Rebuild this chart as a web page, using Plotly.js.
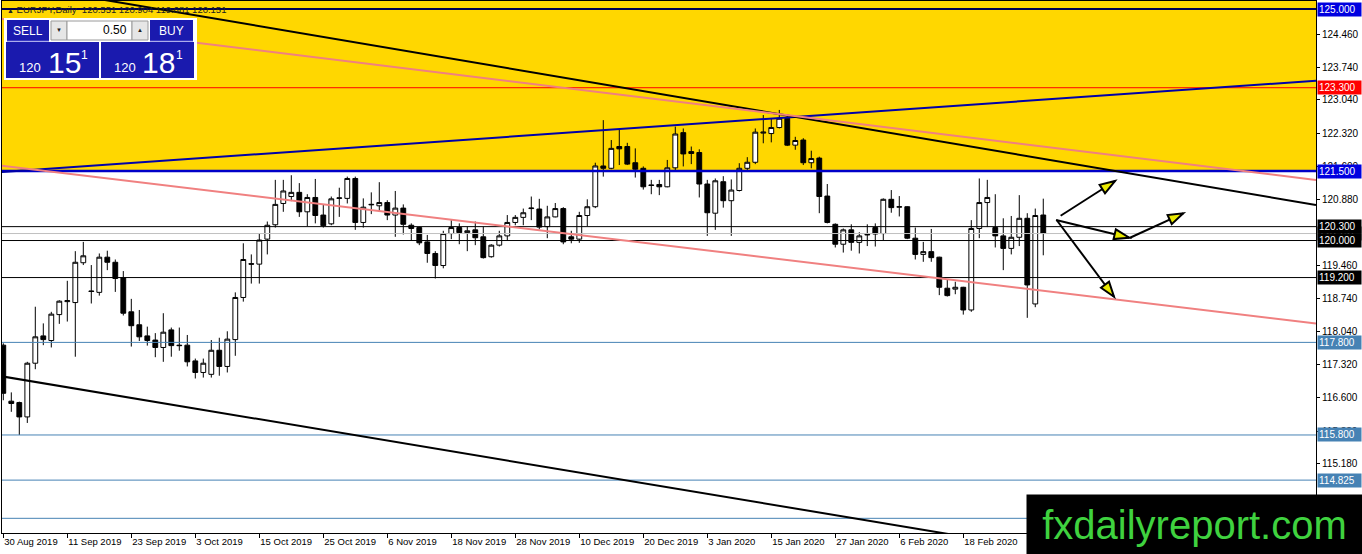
<!DOCTYPE html>
<html><head><meta charset="utf-8">
<script src="https://cdn.plot.ly/plotly-3.0.1.min.js"></script>
<style>html,body{margin:0;padding:0;background:#fff;overflow:hidden}#chart{width:1362px;height:554px}</style>
</head><body><div id="chart"></div>
<script>
// ---------------- DATA ----------------
const symbolTitle = 'EURJPY,Daily';
const lastBar = ['120.551', '120.904', '119.681', '120.151'];

const openP = [117.74,116.53,116.50,116.19,117.35,117.94,117.84,118.40,118.68,118.66,
119.52,118.91,118.88,119.64,119.53,119.20,118.46,118.18,117.94,117.85,
117.69,118.07,117.74,117.74,117.40,117.15,117.11,117.63,117.28,117.86,
118.77,119.50,119.49,120.03,120.34,120.80,120.95,121.04,120.62,120.93,
120.55,120.36,120.91,120.91,121.34,120.39,120.77,120.75,120.82,120.55,
120.70,120.33,120.28,119.97,119.72,119.46,120.15,120.28,120.17,120.23,
120.08,119.65,119.90,120.10,120.39,120.50,120.69,120.68,120.30,120.51,
120.69,120.08,120.03,120.54,120.73,121.61,121.56,122.03,122.03,121.68,
121.56,121.20,121.21,121.16,121.57,122.33,121.92,121.90,121.22,120.59,
121.27,120.86,121.08,121.56,121.69,122.32,122.31,122.44,122.64,122.06,
122.17,121.68,121.78,120.96,120.35,119.92,120.23,119.96,120.12,120.28,
120.15,120.89,120.72,120.73,120.05,119.70,119.76,119.64,118.97,118.95,
118.99,118.50,120.26,120.82,120.28,120.10,119.83,120.07,120.48,118.63,
120.551];
const highP = [117.78,116.72,116.52,117.38,118.57,118.21,118.46,118.71,119.13,119.77,
119.97,119.47,119.72,119.78,119.59,119.34,118.74,118.50,118.14,118.00,
118.43,118.12,118.12,117.96,117.45,117.45,117.85,117.90,118.04,118.88,
119.94,119.70,120.16,120.41,121.31,121.31,121.41,121.24,121.00,121.33,
120.77,120.95,121.14,121.38,121.38,120.91,121.04,121.26,120.87,121.07,
120.78,120.37,120.30,120.12,119.77,120.21,120.44,120.37,120.30,120.41,
120.30,119.92,120.21,120.55,120.55,120.69,120.95,120.90,120.75,120.81,
120.72,120.21,120.62,120.89,121.68,122.60,122.17,122.40,122.11,121.99,
121.60,121.31,121.31,121.74,122.46,122.42,122.03,121.97,121.31,121.34,
121.39,121.32,121.67,121.80,122.42,122.71,122.64,122.82,122.71,122.24,
122.21,121.94,121.81,121.22,120.37,120.26,120.35,120.18,120.35,120.37,
120.91,121.09,120.96,120.74,120.28,119.97,120.25,119.65,119.15,119.11,
119.00,120.44,121.34,121.31,121.00,120.48,120.53,120.98,120.59,120.69,
120.904];
const lowP = [116.55,116.30,115.80,116.06,117.22,117.74,117.69,118.20,118.25,117.49,
119.47,118.64,118.81,119.36,118.89,118.38,117.71,117.83,117.73,117.48,
117.38,117.49,117.62,117.28,117.02,117.04,117.04,117.08,117.15,117.51,
118.68,119.07,119.07,119.70,120.28,120.62,120.85,120.51,120.31,120.37,
120.28,120.33,120.51,120.80,120.23,120.28,120.57,120.62,120.44,120.08,
120.13,119.99,119.90,119.52,119.18,119.40,120.03,119.92,119.77,119.90,
119.61,119.63,119.87,120.01,120.33,120.33,120.44,120.24,120.05,120.50,
119.92,119.94,119.95,120.31,120.70,121.38,121.54,121.63,121.63,121.36,
121.10,121.00,120.98,121.15,121.52,121.60,121.65,120.93,120.10,120.23,
120.71,120.10,121.06,121.51,121.65,122.10,122.12,122.42,122.04,121.96,
121.63,121.56,120.59,120.37,119.85,119.74,119.78,119.72,119.88,119.87,
120.01,120.60,120.52,120.03,119.59,119.54,119.54,118.82,118.79,118.84,
118.40,118.46,120.05,120.29,119.85,119.36,119.70,119.88,118.33,118.56,
119.681];
const closeP = [116.70,116.48,116.19,117.35,117.92,117.86,118.41,118.69,118.70,119.53,
119.67,118.90,119.64,119.53,119.18,118.43,118.16,117.92,117.84,117.69,
118.02,117.73,117.73,117.38,117.15,117.35,117.63,117.28,117.87,118.77,
119.59,119.49,120.01,120.33,120.78,121.07,121.04,120.62,120.93,120.54,
120.32,120.90,120.92,121.34,120.39,120.72,120.78,120.82,120.55,120.70,
120.35,120.26,119.95,119.72,119.46,120.15,120.28,120.17,120.21,120.06,
119.63,119.90,120.10,120.39,120.50,120.60,120.70,120.29,120.51,120.69,
119.97,120.03,120.54,120.73,121.61,121.56,121.99,121.98,121.65,121.54,
121.16,121.19,121.16,121.57,122.30,121.87,121.88,121.22,120.60,121.29,
120.86,121.09,121.56,121.69,122.34,122.34,122.44,122.64,122.06,122.16,
121.68,121.77,120.95,120.39,119.92,120.23,119.96,120.10,120.13,120.14,
120.89,120.71,120.73,120.05,119.70,119.76,119.63,118.99,118.81,118.99,
118.50,120.26,120.82,120.93,120.10,119.83,120.07,120.48,119.04,120.54,
120.151];

const dateTickIndex = [0,8,16,24,32,40,48,56,64,72,80,88,96,104,112,120];
const dateTickText = ['30 Aug 2019','11 Sep 2019','23 Sep 2019','3 Oct 2019','15 Oct 2019','25 Oct 2019',
  '6 Nov 2019','18 Nov 2019','28 Nov 2019','10 Dec 2019','20 Dec 2019','3 Jan 2020','15 Jan 2020',
  '27 Jan 2020','6 Feb 2020','18 Feb 2020'];
const priceTicks = [124.46,123.74,123.04,122.32,121.60,120.88,119.46,118.74,118.04,117.32,116.60,115.88,115.18];

const zoneLow = 121.5;
const levelPrices = [125.0, 123.3, 121.5, 120.151, 120.3, 120.0, 119.2, 117.8, 115.8, 114.825, 114.0];
const levelLabels = ['125.000','123.300','121.500','120.151','120.300','120.000','119.200','117.800','115.800','114.825',''];

// trend lines: [bar index, price] pairs
const trendFrom = [[-0.41,121.479],[12.5,125.20],[-0.41,124.79],[-0.41,121.622],[-0.41,117.073]];
const trendTo   = [[164.09,123.450],[164.09,120.767],[164.09,121.307],[164.09,118.207],[130.0,113.32]];
// arrows
const arrowFrom = [[132.17,120.535],[131.59,120.443],[140.84,120.060],[131.67,120.443]];
const arrowTo   = [[138.96,121.285],[140.75,120.060],[147.50,120.587],[138.84,118.786]];

// ---------------- STYLE / LAYOUT ----------------
const FONT = 'Tahoma, "Liberation Sans", Arial, sans-serif';
const W=1362, H=554, ML=2, MR=46, MT=1, MB=21;
const plotW = W-ML-MR, plotH = H-MT-MB;
const xRange = [-0.1625, 164.09];
const yRange = [113.683, 125.173];
const pxPerX = plotW/(xRange[1]-xRange[0]);
const pxPerY = plotH/(yRange[1]-yRange[0]);
const PX = px => (px-ML)/plotW;
const PY = py => (MT+plotH-py)/plotH;

const levelLine = [
  {color:'#000050', width:2}, {color:'#ff0000', width:1}, {color:'#0000c8', width:2.5},
  {color:'#c0c0c0', width:1}, {color:'#000000', width:1}, {color:'#000000', width:1},
  {color:'#000000', width:1}, {color:'#4682b4', width:1}, {color:'#4682b4', width:1},
  {color:'#4682b4', width:1}, {color:'#4682b4', width:1}];
const levelBg = ['#0000e0','#ff0000','#0000e0','#202020','#000000','#000000','#000000','#4682b4','#4682b4','#4682b4','#4682b4'];
const trendStyle = [
  {color:'#0000a8', width:2}, {color:'#000000', width:2}, {color:'#f08080', width:2},
  {color:'#f08080', width:2}, {color:'#000000', width:2}];

const idx = openP.map((_, i) => i);

const trace = {
  type:'candlestick', x: idx, open: openP, high: highP, low: lowP, close: closeP,
  increasing:{line:{color:'#000000', width:1}, fillcolor:'#ffffff'},
  decreasing:{line:{color:'#000000', width:1}, fillcolor:'#000000'},
  whiskerwidth:0, hoverinfo:'skip', showlegend:false
};

const shapes = [];
const annotations = [];

// yellow zone
shapes.push({type:'rect', layer:'below', xref:'paper', yref:'y', x0:0, x1:1, y0:zoneLow, y1:yRange[1],
  fillcolor:'#ffd700', line:{width:0}});

// horizontal levels
levelPrices.forEach((p, i) => {
  shapes.push({type:'line', layer:'above', xref:'paper', yref:'y', x0:0, x1:1, y0:p, y1:p,
    line:{color:levelLine[i].color, width:levelLine[i].width}});
});

// trend lines
trendFrom.forEach((a, i) => {
  const b = trendTo[i];
  shapes.push({type:'line', layer:'above', xref:'x', yref:'y', x0:a[0], y0:a[1], x1:b[0], y1:b[1],
    line:{color:trendStyle[i].color, width:trendStyle[i].width}});
});

// arrows with yellow heads
function headPath(from, to){
  const dxp = (to[0]-from[0])*pxPerX, dyp = -(to[1]-from[1])*pxPerY;
  const len = Math.hypot(dxp, dyp), ux = dxp/len, uy = dyp/len, nx = -uy, ny = ux;
  const L = 15, Wd = 5;
  const pts = [[0,0],[-ux*L + nx*Wd, -uy*L + ny*Wd],[-ux*L - nx*Wd, -uy*L - ny*Wd]]
    .map(([px,py]) => [to[0] + px/pxPerX, to[1] - py/pxPerY]);
  return 'M ' + pts.map(p => p[0] + ',' + p[1]).join(' L ') + ' Z';
}
arrowFrom.forEach((a, i) => {
  const b = arrowTo[i];
  shapes.push({type:'line', layer:'above', xref:'x', yref:'y', x0:a[0], y0:a[1], x1:b[0], y1:b[1],
    line:{color:'#000000', width:2}});
  shapes.push({type:'path', layer:'above', xref:'x', yref:'y', path:headPath(a, b),
    fillcolor:'#e8e800', line:{color:'#000000', width:2}});
});

// level labels on price axis
levelPrices.forEach((p, i) => {
  if (!levelLabels[i]) return;
  annotations.push({xref:'paper', yref:'y', x:1, y:p, xanchor:'left', yanchor:'middle', xshift:1,
    text:levelLabels[i], showarrow:false, bgcolor:levelBg[i], borderpad:1, width:41, height:11, align:'left',
    font:{family:FONT, size:10, color:'#ffffff'}});
});

// header text
annotations.push({xref:'paper', yref:'paper', x:PX(5), y:PY(10), xanchor:'left', yanchor:'middle', showarrow:false,
  text:'<span style="font-size:7px">▲</span> ' + symbolTitle + '  ' + lastBar.join(' '),
  font:{family:FONT, size:9.5, color:'#202020'}});

// trade panel
const BLUE = '#1a1aae';
const panelRects = [
  [4,18,197,80,'#ffffff',null],
  [7,20,49,41,BLUE,null],
  [51,21,67,40,'#e6e6e6','#9a9a9a'],
  [67,21,132,40,'#ffffff','#9a9a9a'],
  [132,21,148,40,'#e6e6e6','#9a9a9a'],
  [150,20,193,41,BLUE,null],
  [6,42,99,78,BLUE,null],
  [101,42,194,78,BLUE,null]];
panelRects.forEach(r => {
  shapes.push({type:'rect', layer:'above', xref:'paper', yref:'paper', x0:PX(r[0]), x1:PX(r[2]), y0:PY(r[3]), y1:PY(r[1]),
    fillcolor:r[4], line: r[5] ? {color:r[5], width:1} : {width:0}});
});
[[49,41,7,41],[150,41,193,41]].forEach(l => {
  shapes.push({type:'line', layer:'above', xref:'paper', yref:'paper', x0:PX(l[0]), x1:PX(l[2]), y0:PY(l[1]), y1:PY(l[3]),
    line:{color:'#5a5ad8', width:1}});
});
const panelTexts = [
  ['SELL', 28, 31, 12, '#ffffff', 'center'],
  ['▼', 59, 30, 6, '#202020', 'center'],
  ['0.50', 129, 30, 12, '#000000', 'right'],
  ['▲', 140, 30, 6, '#202020', 'center'],
  ['BUY', 171, 31, 12, '#ffffff', 'center'],
  ['120', 30, 67, 13, '#ffffff', 'center'],
  ['15', 64, 62, 30, '#ffffff', 'center'],
  ['1', 84, 55, 12, '#ffffff', 'center'],
  ['120', 125, 67, 13, '#ffffff', 'center'],
  ['18', 158, 62, 30, '#ffffff', 'center'],
  ['1', 179, 55, 12, '#ffffff', 'center']];
panelTexts.forEach(t => {
  annotations.push({xref:'paper', yref:'paper', x:PX(t[1]), y:PY(t[2]), xanchor:t[5], yanchor:'middle', showarrow:false,
    text:t[0], font:{family:FONT, size:t[3], color:t[4]}});
});

// watermark
annotations.push({xref:'paper', yref:'paper', x:PX(1194.5), y:PY(524.5), xanchor:'center', yanchor:'middle', showarrow:false,
  text:'fxdailyreport.com', bgcolor:'#000000', width:331, height:55, borderpad:2, valign:'middle',
  font:{family:'"Liberation Sans", Arial, sans-serif', size:40, color:'#3fd23f'}});

const layout = {
  width:W, height:H, margin:{l:ML, r:MR, t:MT, b:MB, pad:0},
  paper_bgcolor:'#ffffff', plot_bgcolor:'#ffffff', showlegend:false, dragmode:false,
  boxgap:0.4, boxgroupgap:0,
  xaxis:{type:'linear', range:xRange, fixedrange:true, showgrid:false, zeroline:false,
    showline:true, mirror:true, linecolor:'#000000', linewidth:1,
    tickmode:'array', tickvals:dateTickIndex, ticktext:dateTickText, ticks:'outside', ticklen:4, tickcolor:'#000000',
    ticklabelposition:'outside right', tickfont:{family:FONT, size:9.5, color:'#000000'},
    rangeslider:{visible:false}},
  yaxis:{range:yRange, side:'right', fixedrange:true, showgrid:false, zeroline:false,
    showline:true, mirror:true, linecolor:'#000000', linewidth:1,
    tickmode:'array', tickvals:priceTicks, ticktext:priceTicks.map(v => v.toFixed(3)),
    ticks:'outside', ticklen:3, tickcolor:'#000000', tickfont:{family:FONT, size:10, color:'#000000'}},
  shapes, annotations
};

Plotly.newPlot('chart', [trace], layout, {displayModeBar:false, staticPlot:true});
</script></body></html>
